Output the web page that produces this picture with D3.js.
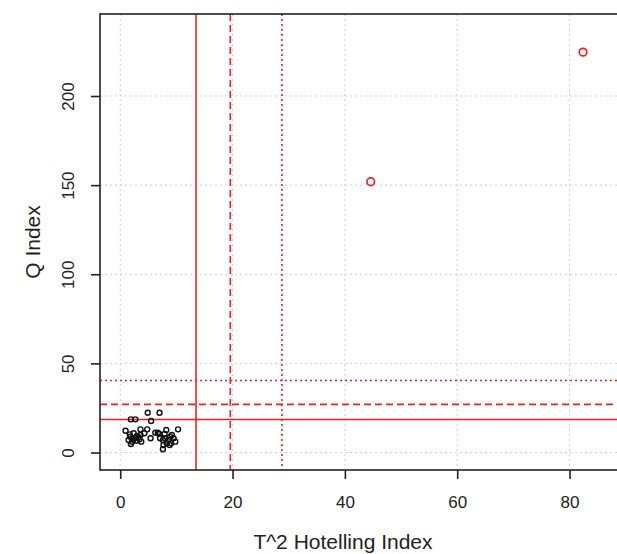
<!DOCTYPE html>
<html>
<head>
<meta charset="utf-8">
<script src="https://cdn.jsdelivr.net/npm/d3@7"></script>
<style>
  body { margin: 0; background: #fff; }
  text { font-family: "Liberation Sans", Arial, sans-serif; fill: #222; }
</style>
</head>
<body>
<div id="chart"></div>
<script>
// T^2 Hotelling index (x) and Q index (y) of the in-control samples
var t2Values = [4.9, 7.0, 1.9, 2.7, 5.5, 0.95, 3.6, 4.8, 10.3, 6.25, 6.7, 6.9, 8.2, 7.9,
  1.8, 2.1, 2.4, 2.7, 3.0, 3.3, 3.6, 2.9, 2.1, 1.5, 1.9, 3.75, 3.45, 1.7, 2.4,
  5.4, 7.1, 7.6, 8.0, 8.6, 8.9, 9.2, 9.5, 9.8, 9.05, 8.3, 7.7, 8.8, 7.6, 4.3];
var qValues = [22.3, 22.3, 18.6, 18.6, 17.7, 12.2, 13.0, 13.0, 13.0, 11.1, 11.1, 10.5, 12.6, 10.4,
  8.9, 8.0, 7.4, 8.3, 9.3, 8.5, 9.8, 6.6, 6.1, 7.0, 4.8, 6.1, 7.4, 10.2, 10.8,
  8.0, 8.0, 7.0, 8.0, 7.0, 8.9, 9.8, 8.0, 6.1, 5.2, 5.2, 4.2, 4.2, 1.8, 10.8];

// samples flagged out of control
var outT2 = [44.6, 82.4];
var outQ = [151.9, 224.6];

// control limits (solid, dashed, dotted)
var t2Limits = [13.5, 19.6, 28.8];
var qLimits = [18.5, 27.0, 40.4];
var limitDash = [null, "7,4", "2,3"];

var xTicks = [0, 20, 40, 60, 80];
var yTicks = [0, 50, 100, 150, 200];

var svgWidth = 617, svgHeight = 554;
var margin = { top: 14, right: -25, bottom: 84, left: 100 };
var chartWidth = svgWidth - margin.left - margin.right;
var chartHeight = svgHeight - margin.top - margin.bottom;

var svg = d3.select("#chart").append("svg")
  .attr("width", svgWidth)
  .attr("height", svgHeight);

var chartGroup = svg.append("g")
  .attr("transform", `translate(${margin.left}, ${margin.top})`);

var xScale = d3.scaleLinear()
  .domain([-3.6, 92.9])
  .range([0, chartWidth]);

var yScale = d3.scaleLinear()
  .domain([-9.8, 246])
  .range([chartHeight, 0]);

// dotted grid
chartGroup.selectAll(".vgrid").data(xTicks).enter().append("line")
  .attr("x1", d => xScale(d)).attr("x2", d => xScale(d))
  .attr("y1", 0).attr("y2", chartHeight)
  .attr("stroke", "#cfcfcf").attr("stroke-dasharray", "2,3");
chartGroup.selectAll(".hgrid").data(yTicks).enter().append("line")
  .attr("y1", d => yScale(d)).attr("y2", d => yScale(d))
  .attr("x1", 0).attr("x2", chartWidth)
  .attr("stroke", "#cfcfcf").attr("stroke-dasharray", "2,3");

// control limit lines
chartGroup.selectAll(".vlim").data(t2Limits).enter().append("line")
  .attr("x1", d => xScale(d)).attr("x2", d => xScale(d))
  .attr("y1", 0).attr("y2", chartHeight)
  .attr("stroke", "#f02020").attr("stroke-width", 1.6)
  .attr("stroke-dasharray", (d, i) => limitDash[i]);
chartGroup.selectAll(".hlim").data(qLimits).enter().append("line")
  .attr("y1", d => yScale(d)).attr("y2", d => yScale(d))
  .attr("x1", 0).attr("x2", chartWidth)
  .attr("stroke", "#f02020").attr("stroke-width", 1.6)
  .attr("stroke-dasharray", (d, i) => limitDash[i]);

// in-control points
chartGroup.selectAll(".pt").data(t2Values).enter().append("circle")
  .attr("cx", d => xScale(d))
  .attr("cy", (d, i) => yScale(qValues[i]))
  .attr("r", 2.5)
  .attr("fill", "none").attr("stroke", "#111").attr("stroke-width", 1.4);

// out-of-control points
chartGroup.selectAll(".out").data(outT2).enter().append("circle")
  .attr("cx", d => xScale(d))
  .attr("cy", (d, i) => yScale(outQ[i]))
  .attr("r", 3.8)
  .attr("fill", "none").attr("stroke", "#f02020").attr("stroke-width", 1.7);

// box
chartGroup.append("rect")
  .attr("width", chartWidth).attr("height", chartHeight)
  .attr("fill", "none").attr("stroke", "#222").attr("stroke-width", 1.6);

// axes
var xAxis = d3.axisBottom(xScale).tickValues(xTicks).tickSize(9).tickPadding(17);
var yAxis = d3.axisLeft(yScale).tickValues(yTicks).tickSize(9).tickPadding(10);

var gx = chartGroup.append("g")
  .attr("transform", `translate(0, ${chartHeight})`)
  .call(xAxis);
gx.select(".domain").remove();
gx.selectAll("line").attr("stroke", "#222").attr("stroke-width", 1.6);
gx.selectAll("text").style("font-size", "17px").attr("fill", "#222");

var gy = chartGroup.append("g").call(yAxis);
gy.select(".domain").remove();
gy.selectAll("line").attr("stroke", "#222").attr("stroke-width", 1.6);
gy.selectAll("text")
  .style("font-size", "17px").attr("fill", "#222")
  .attr("text-anchor", "middle")
  .attr("transform", "translate(-32, 0) rotate(-90)")
  .attr("x", 0).attr("y", 0).attr("dy", "0.35em");

// axis titles
svg.append("text")
  .attr("text-anchor", "middle")
  .attr("x", 343)
  .attr("y", 549)
  .style("font-size", "21px")
  .text("T^2 Hotelling Index");

svg.append("text")
  .attr("text-anchor", "middle")
  .attr("transform", `translate(40, ${margin.top + chartHeight / 2}) rotate(-90)`)
  .style("font-size", "21px")
  .text("Q Index");
</script>
</body>
</html>
